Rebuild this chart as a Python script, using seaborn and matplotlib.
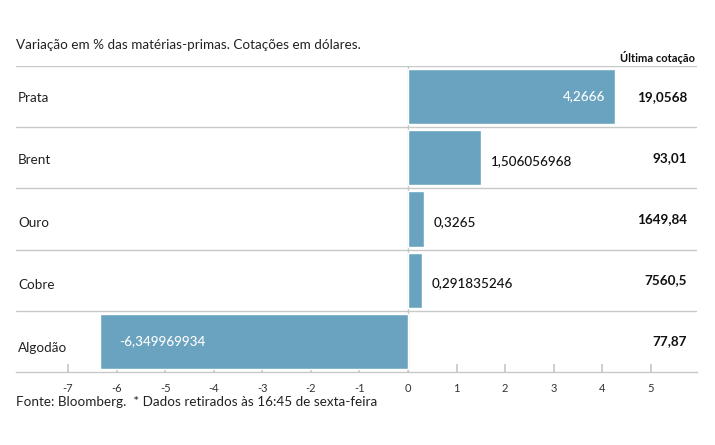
import matplotlib
matplotlib.use("Agg")
import matplotlib.pyplot as plt
import seaborn as sns
import pandas as pd

categories = ["Prata", "Brent", "Ouro", "Cobre", "Algodão"]
variation = [4.2666, 1.506056968, 0.3265, 0.291835246, -6.349969934]
variation_labels = ["4,2666", "1,506056968", "0,3265", "0,291835246", "-6,349969934"]
last_quote = ["19,0568", "93,01", "1649,84", "7560,5", "77,87"]
tick_values = [-7, -6, -5, -4, -3, -2, -1, 0, 1, 2, 3, 4, 5]

sns.set_theme(style="white")
plt.rcParams["font.family"] = ["Lato", "DejaVu Sans"]

df = pd.DataFrame({"cat": categories, "var": variation})

fig = plt.figure(figsize=(7.15, 4.45), dpi=100)
ax = fig.add_axes([16/715, 1-372/445, (697-16)/715, (372-66)/445])

bar_color = "#6aa3bf"
sns.barplot(data=df, x="var", y="cat", orient="h", color=bar_color,
            width=0.9, ax=ax, saturation=1)

ax.set_xlim(-8.07, 5.95)
ax.set_ylim(4.5, -0.5)

grid_c = "#c8c8c8"
for y in [-0.5, 0.5, 1.5, 2.5, 3.5]:
    ax.axhline(y, color=grid_c, lw=1, zorder=0)
ax.axvline(0, color=grid_c, lw=1, zorder=0)

for s in ["top", "left", "right"]:
    ax.spines[s].set_visible(False)
ax.spines["bottom"].set_color(grid_c)
ax.spines["bottom"].set_linewidth(1)

ax.set_xticks(tick_values)
ax.set_xticklabels([str(t) for t in tick_values], fontsize=8, color="#333333")
ax.tick_params(axis="x", direction="in", length=6, color=grid_c, pad=8, bottom=True)
ax.set_yticks([])
ax.set_xlabel("")
ax.set_ylabel("")

for i, (cat, v, lab, q) in enumerate(zip(categories, variation, variation_labels, last_quote)):
    ax.text(-8.03, i + 0.02 + 0.02 * i, cat, ha="left", va="center", fontsize=9.75, color="#222222")
    if v > 4:
        ax.text(v - 0.2, i, lab, ha="right", va="center", fontsize=9.75, color="white",
                fontweight="medium")
    elif v < 0:
        ax.text(v + 0.4, i, lab, ha="left", va="center", fontsize=9.75, color="white",
                fontweight="medium")
    else:
        ax.text(v + 0.2, i + 0.05, lab, ha="left", va="center", fontsize=9.75, color="#111111",
                fontweight="medium")
    ax.text(5.75, i, q, ha="right", va="center", fontsize=9.75, color="#111111",
            fontweight="bold")

fig.text(16/715, 1-45/445, "Variação em % das matérias-primas. Cotações em dólares.",
         ha="left", va="center", fontsize=9.75, color="#222222")
fig.text(695/715, 1-57/445, "Última cotação", ha="right", va="center",
         fontsize=8, fontweight="bold", color="#111111")
fig.text(16/715, 1-402/445, "Fonte: Bloomberg.  * Dados retirados às 16:45 de sexta-feira",
         ha="left", va="center", fontsize=9.75, color="#222222")

fig.savefig("out.png", dpi=100)
